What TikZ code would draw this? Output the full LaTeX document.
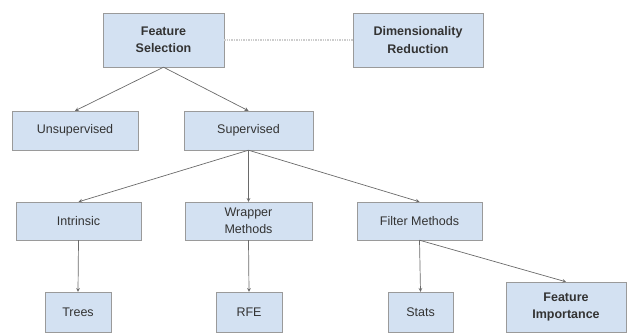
\documentclass[tikz,border=0pt]{standalone}
\usepackage{fontspec}
\setmainfont{Liberation Sans}
\usepackage{xcolor}
\usepackage{tikz}
\usetikzlibrary{calc, positioning}

\definecolor{boxfill}{HTML}{D3E1F2}
\definecolor{boxline}{HTML}{9A9A9A}
\definecolor{linkline}{HTML}{6A6A6A}
\definecolor{textgray}{HTML}{333333}

\tikzset{
    box/.style={draw=boxline, fill=boxfill, rectangle, inner sep=0pt,
        align=center, text=textgray, font=\fontsize{12.5}{17.5}\selectfont},
    boldbox/.style={box, font=\fontsize{12.5}{17.5}\selectfont\bfseries},
    link/.style={->, draw=linkline, line width=0.7pt}
}

\begin{document}
\begin{tikzpicture}[>=stealth, x=1pt, y=-1pt]
    \useasboundingbox (0,0) rectangle (628,333);

    % 1. Hàng trên
    \node[boldbox, minimum width=121pt, minimum height=54pt] (fs) at (163.5,40) {Feature\\Selection};
    \node[boldbox, minimum width=130pt, minimum height=54pt] (dr) at (418,40) {Dimensionality\\Reduction};
    \draw[boxline!50, line width=1.4pt, densely dotted] (fs.east) -- (dr.west);

    % 2. Hàng thứ hai
    \node[box, minimum width=126pt, minimum height=39pt] (unsup) at (75,130.5) {Unsupervised};
    \node[box, minimum width=129pt, minimum height=39pt] (sup) at (248.5,130.5) {Supervised};

    % 3. Hàng thứ ba
    \node[box, minimum width=125pt, minimum height=38pt] (intr) at (78.5,221) {Intrinsic};
    \node[box, minimum width=127pt, minimum height=38pt] (wrap) at (248.5,221) {Wrapper\\Methods};
    \node[box, minimum width=125pt, minimum height=38pt] (filt) at (419.5,221) {Filter Methods};

    % 4. Hàng dưới
    \node[box, minimum width=66pt, minimum height=40pt] (trees) at (78,312) {Trees};
    \node[box, minimum width=66pt, minimum height=40pt] (rfe) at (249,312) {RFE};
    \node[box, minimum width=65pt, minimum height=40pt] (stats) at (420.5,312) {Stats};
    \node[boldbox, minimum width=120pt, minimum height=50pt] (fimp) at (566,307) {Feature\\Importance};

    % 5. Mũi tên
    \draw[link] (fs.south) -- (unsup.north);
    \draw[link] (fs.south) -- (sup.north);
    \foreach \child in {intr, wrap, filt} {
        \draw[link] (sup.south) -- (\child.north);
    }
    \draw[link] (intr.south) -- (trees.north);
    \draw[link] (wrap.south) -- (rfe.north);
    \draw[link] (filt.south) -- (stats.north);
    \draw[link] (filt.south) -- (fimp.north);
\end{tikzpicture}
\end{document}
